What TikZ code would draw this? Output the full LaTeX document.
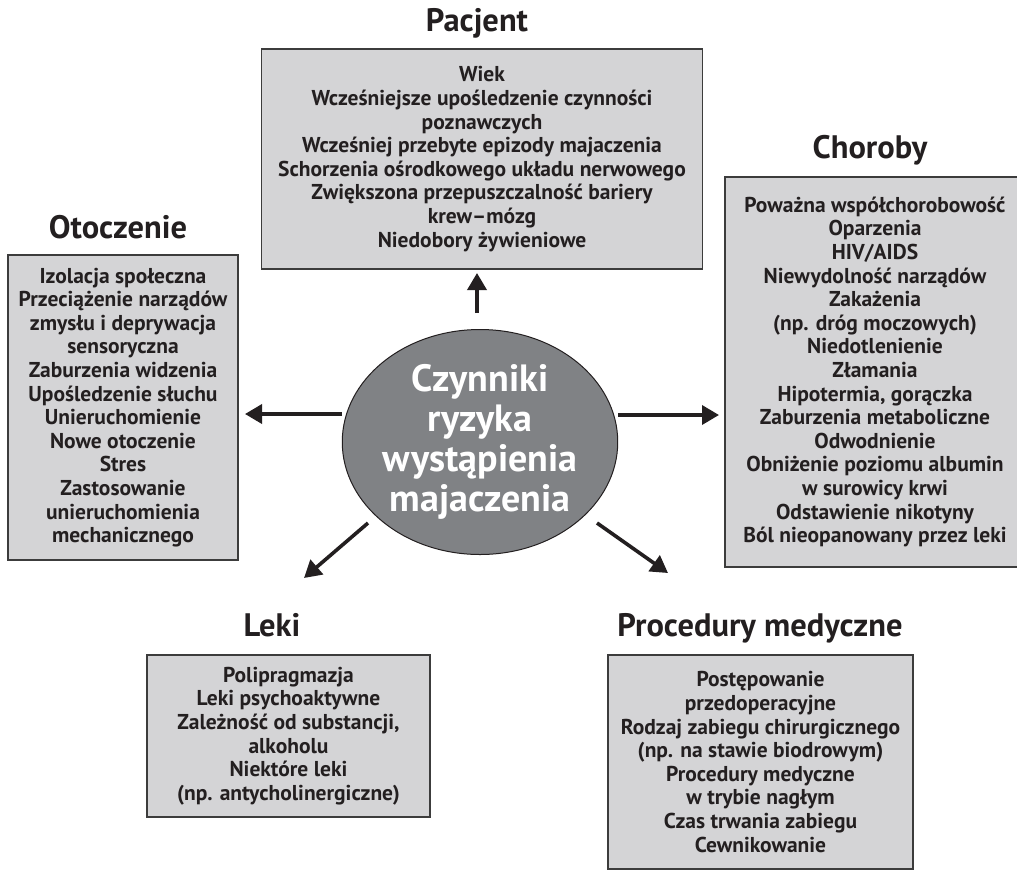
\documentclass[tikz,border=0pt]{standalone}
\usepackage{fontspec}
\setmainfont{PT Sans}
\usetikzlibrary{arrows.meta,shapes.geometric}
\definecolor{ink}{RGB}{35,31,32}
\definecolor{boxfill}{RGB}{212,212,214}
\definecolor{boxline}{RGB}{60,60,60}
\definecolor{circfill}{RGB}{128,130,133}
\tikzset{
  x=1pt, y=-1pt,
  riskbox/.style={draw=boxline, line width=1.5pt, fill=boxfill, text=ink, align=center, inner sep=0pt,
    font=\fontsize{21.5}{23.6}\selectfont\bfseries},
  title/.style={text=ink, font=\fontsize{32.5}{36}\selectfont\bfseries, inner sep=0pt},
  hub/.style={ellipse, draw=ink, line width=1pt, fill=circfill, text=white, align=center, inner sep=0pt,
    font=\fontsize{38}{40}\selectfont\bfseries},
  arr/.style={draw=ink, line width=3.6pt, -{Triangle[length=17pt,width=19pt]}}
}
\begin{document}
\begin{tikzpicture}
\useasboundingbox (0,0) rectangle (1017,871);

\node[title] (tP) at (477,23) {Pacjent};
\node[title] (tC) at (870,150) {Choroby};
\node[title] (tO) at (118,227) {Otoczenie};
\node[title] (tL) at (272,625) {Leki};
\node[title] (tM) at (760,628) {Procedury medyczne};

\node[riskbox, minimum width=441pt, minimum height=220pt] (P) at (482,159) {Wiek\\Wcześniejsze upośledzenie czynności\\poznawczych\\Wcześniej przebyte epizody majaczenia\\Schorzenia ośrodkowego układu nerwowego\\Zwiększona przepuszczalność bariery\\krew–mózg\\Niedobory żywieniowe};

\node[riskbox, minimum width=230pt, minimum height=305pt] (O) at (123,407.5) {Izolacja społeczna\\Przeciążenie narządów\\zmysłu i deprywacja\\sensoryczna\\Zaburzenia widzenia\\Upośledzenie słuchu\\Unieruchomienie\\Nowe otoczenie\\Stres\\Zastosowanie\\unieruchomienia\\mechanicznego};

\node[riskbox, minimum width=300pt, minimum height=390pt] (C) at (875,372) {Poważna współchorobowość\\Oparzenia\\HIV/AIDS\\Niewydolność narządów\\Zakażenia\\(np. dróg moczowych)\\Niedotlenienie\\Złamania\\Hipotermia, gorączka\\Zaburzenia metaboliczne\\Odwodnienie\\Obniżenie poziomu albumin\\w surowicy krwi\\Odstawienie nikotyny\\Ból nieopanowany przez leki};

\node[riskbox, minimum width=283pt, minimum height=162pt] (L) at (288.5,736) {Polipragmazja\\Leki psychoaktywne\\Zależność od substancji,\\alkoholu\\Niektóre leki\\(np. antycholinergiczne)};

\node[riskbox, minimum width=305pt, minimum height=214pt] (M) at (760.5,762) {Postępowanie\\przedoperacyjne\\Rodzaj zabiegu chirurgicznego\\(np. na stawie biodrowym)\\Procedury medyczne\\w trybie nagłym\\Czas trwania zabiegu\\Cewnikowanie};

\node[hub, minimum width=244pt, minimum height=225pt] (H) at (480,442) {Czynniki\\ryzyka\\wystąpienia\\majaczenia};

\coordinate (aP0) at (477,313); \coordinate (aP1) at (477,273);
\coordinate (aO0) at (342,414); \coordinate (aO1) at (245,414);
\coordinate (aC0) at (618,415); \coordinate (aC1) at (719,415);
\coordinate (aL0) at (368,523); \coordinate (aL1) at (304,578);
\coordinate (aM0) at (597,523); \coordinate (aM1) at (668,573);
\draw[arr] (aP0) -- (aP1);
\draw[arr] (aO0) -- (aO1);
\draw[arr] (aC0) -- (aC1);
\draw[arr] (aL0) -- (aL1);
\draw[arr] (aM0) -- (aM1);
\end{tikzpicture}
\end{document}
